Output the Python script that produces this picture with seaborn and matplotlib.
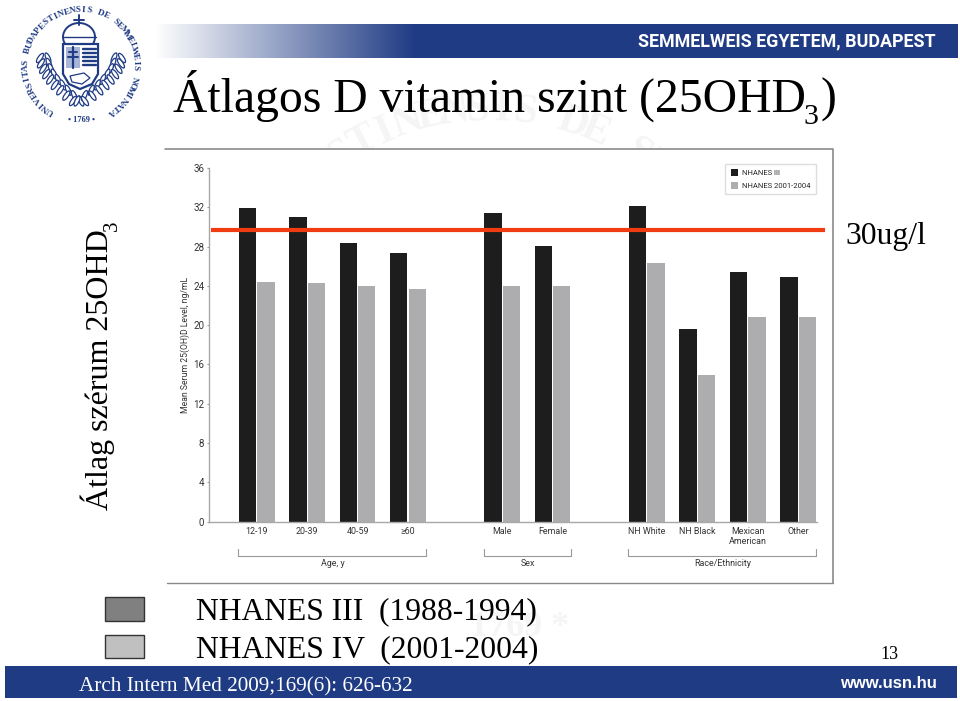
# Slide with the NHANES vitamin D bar chart
import numpy as np
import pandas as pd
import matplotlib
matplotlib.use("Agg")
import matplotlib.pyplot as plt
from matplotlib.patches import Rectangle, Polygon, Ellipse
import seaborn as sns

categories = ["12-19", "20-39", "40-59", "\u226560", "Male", "Female",
              "NH White", "NH Black", "Mexican\nAmerican", "Other"]
group_names = ["Age, y", "Sex", "Race/Ethnicity"]
group_sizes = [4, 2, 4]
nhanes3 = [31.9, 31.0, 28.4, 27.3, 31.4, 28.1, 32.1, 19.6, 25.4, 24.9]
nhanes4 = [24.4, 24.3, 24.0, 23.7, 24.0, 24.0, 26.3, 14.9, 20.8, 20.8]
series_names = ["NHANES III", "NHANES 2001-2004"]
y_ticks = [0, 4, 8, 12, 16, 20, 24, 28, 32, 36]
threshold = 29.7

sns.set_theme(style="white")
plt.rcParams["font.family"] = ["Liberation Sans", "DejaVu Sans"]
SERIF = "Liberation Serif"
NARROW = ["Roboto", "DejaVu Sans"]
NAVY = "#1f3b84"
W, H = 960, 701

fig = plt.figure(figsize=(W / 100, H / 100), dpi=100, facecolor="white")


def ax_rect(left, top, right, bottom):
    return [left / W, 1 - bottom / H, (right - left) / W, (bottom - top) / H]


# background layer in pixel coordinates
bg = fig.add_axes([0, 0, 1, 1], zorder=0)
bg.set_xlim(0, W)
bg.set_ylim(H, 0)
bg.axis("off")


def ring_text(text, cx, cy, r, start, end, **kw):
    # one letter at a time round a circle, angles clockwise from the top
    for a, ch in zip(np.linspace(start, end, len(text)), text):
        t = np.radians(a)
        bg.text(cx + r * np.sin(t), cy - r * np.cos(t), ch, rotation=-a,
                ha="center", va="center", family=SERIF, **kw)


# watermark behind everything
ring_text("UNIVERSITAS BUDAPESTINENSIS DE SEMMELWEIS NOMINATA", 490, 380, 270,
          -125, 125, fontsize=30, color="#f5f5f5", fontweight="bold", zorder=0.5)
bg.text(520, 628, "1769 *", ha="center", va="center", family=SERIF,
        fontsize=26, color="#f5f5f5", fontweight="bold", zorder=0.5)

# header band fading in from the left
fade = np.clip((np.arange(155, 958) - 155) / 260.0, 0, 1)[None, :, None]
rgb = np.array(matplotlib.colors.to_rgb(NAVY))
band = 1 - fade * (1 - rgb)
bg.imshow(band, extent=(155, 958, 58, 24), aspect="auto", zorder=1)
bg.set_xlim(0, W)
bg.set_ylim(H, 0)
bg.text(936, 41.5, "SEMMELWEIS EGYETEM, BUDAPEST", ha="right", va="center",
        color="white", fontweight="bold", fontsize=12.9, family=["Roboto", "DejaVu Sans"], zorder=2)

# footer band
bg.add_patch(Rectangle((5, 666), 952, 32, facecolor=NAVY, edgecolor="none", zorder=1))
bg.text(79, 691, "Arch Intern Med 2009;169(6): 626-632", family=SERIF, color="white",
        fontsize=15.3, va="baseline", zorder=2)
bg.text(937, 683, "www.usn.hu", ha="right", va="center", color="white",
        fontweight="bold", fontsize=12, zorder=2)

# logo
ring_text("UNIVERSITAS BUDAPESTINENSIS DE SEMMELWEIS NOMINATA", 81, 65, 55,
          -147, 147, fontsize=6.5, color=NAVY, fontweight="bold")
bg.text(81, 120, "\u2022 1769 \u2022", ha="center", va="center", family=SERIF, fontsize=6,
        color=NAVY, fontweight="bold")
bg.add_patch(Ellipse((79, 37), 32, 28, facecolor="white", edgecolor=NAVY, lw=1.4))
bg.plot([79, 79], [15, 25], color=NAVY, lw=1.4)
bg.plot([74, 84], [20, 20], color=NAVY, lw=1.4)
bg.plot([63, 96], [37, 37], color=NAVY, lw=1)
# laurel branches either side of the shield
for sx, tip_x in ((-1, 44), (1, 118)):
    for i, f in enumerate(np.linspace(0, 1, 9)):
        px = tip_x + (79 + sx * 2 - tip_x) * f ** 1.7
        py = 60 + 43 * f
        bg.add_patch(Ellipse((px - sx * 4, py - 2), 4, 11, angle=sx * 25, facecolor="white",
                             edgecolor=NAVY, lw=0.9))
        bg.add_patch(Ellipse((px + sx * 4, py - 2), 4, 11, angle=-sx * 35, facecolor="white",
                             edgecolor=NAVY, lw=0.9))
bg.add_patch(Polygon([(63, 44), (98, 44), (98, 74), (92, 84), (80, 89), (69, 84), (63, 74)],
                     closed=True, facecolor="white", edgecolor=NAVY, lw=1.6, zorder=2))
bg.add_patch(Rectangle((66, 47), 14, 21, facecolor="#a9b5d8", edgecolor="none", zorder=2.1))
bg.plot([73, 73], [47, 68], color=NAVY, lw=1.6, zorder=2.2)
bg.plot([69, 77], [52, 52], color=NAVY, lw=1.4, zorder=2.2)
bg.plot([68, 78], [57, 57], color=NAVY, lw=1.4, zorder=2.2)
for yy in (49, 53, 57, 61, 65):
    bg.plot([83, 96], [yy, yy], color=NAVY, lw=1.7, zorder=2.2)
bg.add_patch(Polygon([(70, 76), (84, 73), (90, 78), (82, 84), (72, 82)], closed=True,
                     facecolor="white", edgecolor=NAVY, lw=0.9, zorder=2.2))

# title and side texts
bg.text(173, 112, "\u00c1tlagos D vitamin szint (25OHD", family=SERIF, fontsize=34.3,
        color="black", va="baseline")
bg.text(803, 124, "3", family=SERIF, fontsize=21.5, color="black", va="baseline")
bg.text(820, 112, ")", family=SERIF, fontsize=34.3, color="black", va="baseline")
bg.text(108, 510, "\u00c1tlag sz\u00e9rum 25OHD", family=SERIF, fontsize=23, rotation=90,
        ha="left", va="baseline", rotation_mode="anchor", color="black")
bg.text(117, 231, "3", family=SERIF, fontsize=15, rotation=90, ha="left", va="baseline",
        rotation_mode="anchor", color="black")
bg.text(845, 244, "30ug/l", family=SERIF, fontsize=22.8, color="black", va="baseline")
bg.text(880, 659, "13", family=SERIF, fontsize=13, color="black", va="baseline")

# legend under the picture
bg.add_patch(Rectangle((105, 597), 39, 24, facecolor="#808080", edgecolor="#333333", lw=1))
bg.add_patch(Rectangle((105, 635), 39, 23, facecolor="#c0c0c0", edgecolor="#333333", lw=1))
bg.text(196, 619, "NHANES III  (1988-1994)", family=SERIF, fontsize=22.8, color="black", va="baseline")
bg.text(196, 657, "NHANES IV  (2001-2004)", family=SERIF, fontsize=22.8, color="black", va="baseline")

# white panel holding the chart
bg.add_patch(Rectangle((166, 148.5), 667, 434.5, facecolor="white", edgecolor="none", zorder=1.5))
bg.plot([165, 833, 833], [148.5, 148.5, 583], color="#808080", lw=1.1, zorder=2)
bg.plot([167, 833], [583, 583], color="#8a8a8a", lw=1, zorder=2)

# the chart itself
ax = fig.add_axes(ax_rect(208.5, 168, 817, 521.5), zorder=1, facecolor="none")

group_gap = 1.87
positions = []
x = 0.0
for size in group_sizes:
    positions += [x + i for i in range(size)]
    x += size - 1 + group_gap
positions = np.round(positions, 2)

df = pd.DataFrame({
    "pos": np.tile(positions, 2),
    "level": nhanes3 + nhanes4,
    "survey": np.repeat(series_names, len(categories)),
})
sns.barplot(data=df, x="pos", y="level", hue="survey", native_scale=True, ax=ax,
            palette=["#1d1d1d", "#adadaf"], width=0.73, gap=0.06, saturation=1,
            edgecolor="none", legend=True)

ax.set_xlim(-0.958, 11.115)
ax.set_ylim(0, 36)
ax.set_yticks(y_ticks)
ax.set_xticks(positions)
ax.set_xticklabels(categories, fontsize=6.4, color="#333333", linespacing=1.2, family=NARROW)
ax.tick_params(axis="x", length=0, pad=4)
ax.tick_params(axis="y", left=True, length=1.5, width=0.8, color="#999999", labelsize=7,
               labelcolor="#333333", pad=1.5)
for lab in ax.get_yticklabels():
    lab.set_family(NARROW)
ax.set_xlabel("")
ax.set_ylabel("Mean Serum 25(OH)D Level, ng/mL", fontsize=6.2, color="#333333", labelpad=2.5,
              family=NARROW)
sns.despine(ax=ax)
for side in ("left", "bottom"):
    ax.spines[side].set_color("#a8a8a8")
    ax.spines[side].set_linewidth(1)

ax.plot([0.004, 1.013], [threshold, threshold], transform=ax.get_yaxis_transform(),
        color="#f03c10", lw=3, clip_on=False, zorder=5, solid_capstyle="butt")

ax.legend(title=None, loc="upper right", bbox_to_anchor=(0.9985, 1.011),
          prop={"family": NARROW, "size": 5.5},
          frameon=True, fancybox=False, edgecolor="#dddddd", framealpha=1, borderpad=0.7,
          handlelength=1, handleheight=1, labelspacing=0.7, handletextpad=0.5, borderaxespad=0)

# brackets and group names under the axis
trans = ax.get_xaxis_transform()
half = 0.73 / 2
start = 0
for name, size in zip(group_names, group_sizes):
    x0 = positions[start] - half
    x1 = positions[start + size - 1] + half
    y_top = -(549 - 521.5) / 353.5
    y_bot = -(556 - 521.5) / 353.5
    ax.plot([x0, x0, x1, x1], [y_top, y_bot, y_bot, y_top], transform=trans,
            color="#999999", lw=0.8, clip_on=False)
    ax.text((x0 + x1) / 2, -(564 - 521.5) / 353.5, name, transform=trans, ha="center",
            va="center", fontsize=6.4, color="#333333", family=NARROW)
    start += size

fig.savefig("out.png", dpi=100)
